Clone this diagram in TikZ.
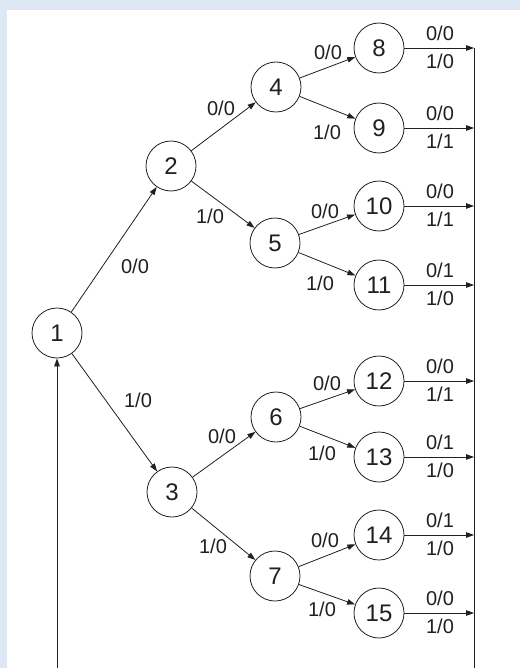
\documentclass[tikz,border=0pt]{standalone}
\usepackage{fontspec}
\setmainfont{Liberation Sans}
\usetikzlibrary{arrows.meta}
\definecolor{frameblue}{HTML}{DDE8F4}
\definecolor{ink}{HTML}{231F20}

\begin{document}
\begin{tikzpicture}[x=1pt,y=-1pt,
  state/.style={circle,draw=ink,line width=0.8pt,minimum size=50pt,inner sep=0pt,
    font=\fontsize{24}{24}\selectfont,text height=17.2pt,text depth=0pt,text=ink},
  lbl/.style={inner sep=0pt,font=\fontsize{20}{20}\selectfont,
    text height=14.3pt,text depth=0pt,text=ink},
  edge/.style={draw=ink,line width=0.8pt,-{Triangle[length=8pt,width=5.5pt]}},
  rail/.style={draw=ink,line width=0.8pt}]

% page and frame
\useasboundingbox (0,0) rectangle (520,668);
\fill[frameblue] (0,0) rectangle (520,668);
\fill[white] (7,10) rectangle (520,668);

% states
\node[state] (s1)  at (57,333)  {1};
\node[state] (s2)  at (171,166) {2};
\node[state] (s3)  at (172,492) {3};
\node[state] (s4)  at (276,87)  {4};
\node[state] (s5)  at (275,243) {5};
\node[state] (s6)  at (276,417) {6};
\node[state] (s7)  at (275,576) {7};
\node[state] (s8)  at (379,48)  {8};
\node[state] (s9)  at (379,128) {9};
\node[state] (s10) at (379,206) {10};
\node[state] (s11) at (379,285) {11};
\node[state] (s12) at (379,381) {12};
\node[state] (s13) at (379,457) {13};
\node[state] (s14) at (379,535) {14};
\node[state] (s15) at (379,613) {15};

% tree transitions
\draw[edge] (s1) -- (s2);
\draw[edge] (s1) -- (s3);
\draw[edge] (s2) -- (s4);
\draw[edge] (s2) -- (s5);
\draw[edge] (s3) -- (s6);
\draw[edge] (s3) -- (s7);
\draw[edge] (s4) -- (s8);
\draw[edge] (s4) -- (s9);
\draw[edge] (s5) -- (s10);
\draw[edge] (s5) -- (s11);
\draw[edge] (s6) -- (s12);
\draw[edge] (s6) -- (s13);
\draw[edge] (s7) -- (s14);
\draw[edge] (s7) -- (s15);

% transition labels
\node[lbl] (l12)  at (135,266) {0/0};
\node[lbl] (l13)  at (138,400) {1/0};
\node[lbl] (l24)  at (221,108) {0/0};
\node[lbl] (l25)  at (210,216) {1/0};
\node[lbl] (l36)  at (222,436) {0/0};
\node[lbl] (l37)  at (213,546) {1/0};
\node[lbl] (l48)  at (328,52)  {0/0};
\node[lbl] (l49)  at (327,132) {1/0};
\node[lbl] (l510) at (325,211) {0/0};
\node[lbl] (l511) at (320,283) {1/0};
\node[lbl] (l612) at (327,383) {0/0};
\node[lbl] (l613) at (322,453) {1/0};
\node[lbl] (l714) at (325,540) {0/0};
\node[lbl] (l715) at (322,609) {1/0};

% return rail
\coordinate (r8)  at (474,48);
\coordinate (r9)  at (474,128);
\coordinate (r10) at (474,206);
\coordinate (r11) at (474,285);
\coordinate (r12) at (474,381);
\coordinate (r13) at (474,457);
\coordinate (r14) at (474,535);
\coordinate (r15) at (474,613);
\coordinate (rb) at (474,668);
\coordinate (lb) at (57,668);

\draw[rail] (r8) -- (rb);
\draw[edge] (lb) -- (s1);

\foreach \n in {8,...,15} {
  \draw[edge] (s\n) -- (r\n);
}

% leaf output labels
\foreach \n/\a/\b in {8/0\slash0/1\slash0, 9/0\slash0/1\slash1, 10/0\slash0/1\slash1,
    11/0\slash1/1\slash0, 12/0\slash0/1\slash1, 13/0\slash1/1\slash0,
    14/0\slash1/1\slash0, 15/0\slash0/1\slash0} {
  \path (s\n.center) ++(61,-15) node[lbl] (u\n) {\a};
  \path (s\n.center) ++(61,13) node[lbl] (d\n) {\b};
}
\end{tikzpicture}
\end{document}
